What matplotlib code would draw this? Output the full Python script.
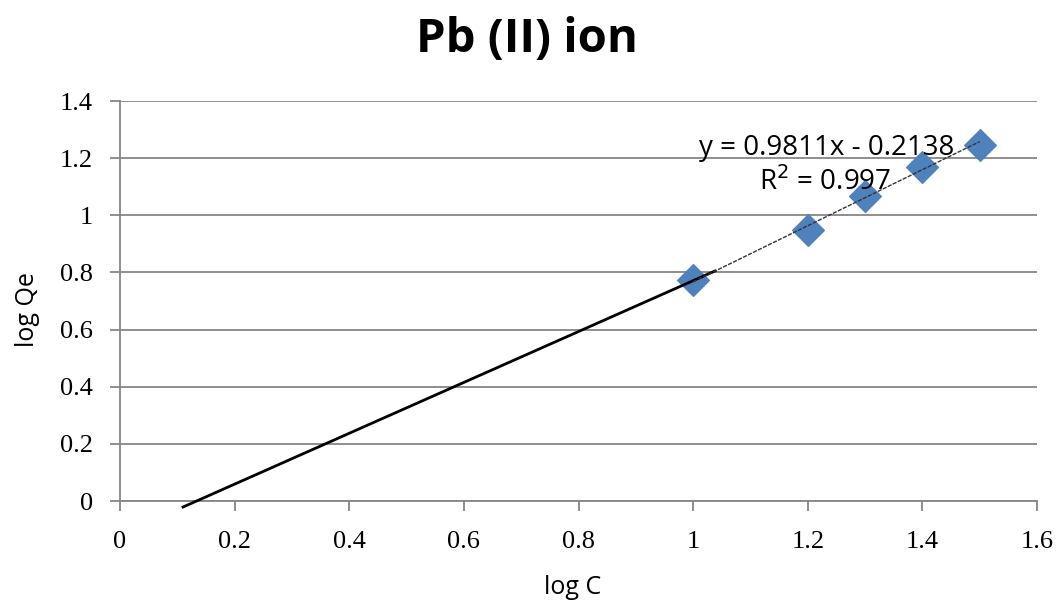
import numpy as np
import matplotlib.pyplot as plt

# data
log_c = [1.0, 1.2, 1.3, 1.4, 1.5]
log_qe = [0.773, 0.949, 1.067, 1.169, 1.246]

slope = 0.9811
intercept = -0.2138

# the heavy line that runs back to the x axis
back_x = [0.110, 1.038]
back_y = [-0.021, 0.805]

fig = plt.figure(figsize=(10.62, 6.07), dpi=100)
ax = fig.add_axes([0.113, 0.1746, 0.8635, 0.659])

ax.plot(back_x, back_y, color='black', linewidth=2, zorder=3, clip_on=False)
fit_x = np.array([log_c[0], log_c[-1]])
ax.plot(fit_x, slope * fit_x + intercept, color='#333333', linewidth=1, linestyle=(0, (3, 1)), zorder=4)
ax.scatter(log_c, log_qe, marker='D', s=260, color='#4f81bd', edgecolors='#4f81bd', zorder=2)

ax.set_xlim(0, 1.6)
ax.set_ylim(0, 1.4)
ax.set_xticks(np.arange(0, 1.61, 0.2))
ax.set_yticks(np.arange(0, 1.41, 0.2))
ax.set_xticklabels(['0', '0.2', '0.4', '0.6', '0.8', '1', '1.2', '1.4', '1.6'])
ax.set_yticklabels(['0', '0.2', '0.4', '0.6', '0.8', '1', '1.2', '1.4'])
ax.yaxis.grid(True, color='#868686', linewidth=1.3)
ax.set_axisbelow(True)
for s in ['top', 'right']:
    ax.spines[s].set_visible(False)
for s in ['left', 'bottom']:
    ax.spines[s].set_color('#868686')
    ax.spines[s].set_linewidth(1.3)
ax.tick_params(axis='both', direction='out', color='#868686', width=1.3, length=7.5,
               labelsize=19)
ax.tick_params(axis='x', pad=14)
ax.tick_params(axis='y', pad=12)
for lab in ax.get_xticklabels() + ax.get_yticklabels():
    lab.set_family('Liberation Serif')

fig.text(573 / 1062, 1 - 588 / 607, 'log C', fontsize=18, family='Open Sans', ha='center', va='center')
fig.text(27 / 1062, 1 - 310 / 607, 'log Qe', fontsize=18, family='Open Sans', ha='center', va='center',
         rotation=90)
fig.text(527 / 1062, 1 - 40 / 607, 'Pb (II) ion', fontsize=34, fontweight='bold', family='Open Sans',
         ha='center', va='center')

ax.text(1.233, 1.237, 'y = 0.9811x - 0.2138', fontsize=20, family='Open Sans', ha='center', va='center')
ax.text(1.23, 1.115, 'R$^2$ = 0.997', fontsize=20, family='Open Sans', ha='center', va='center')

fig.savefig('out.png', dpi=100)
